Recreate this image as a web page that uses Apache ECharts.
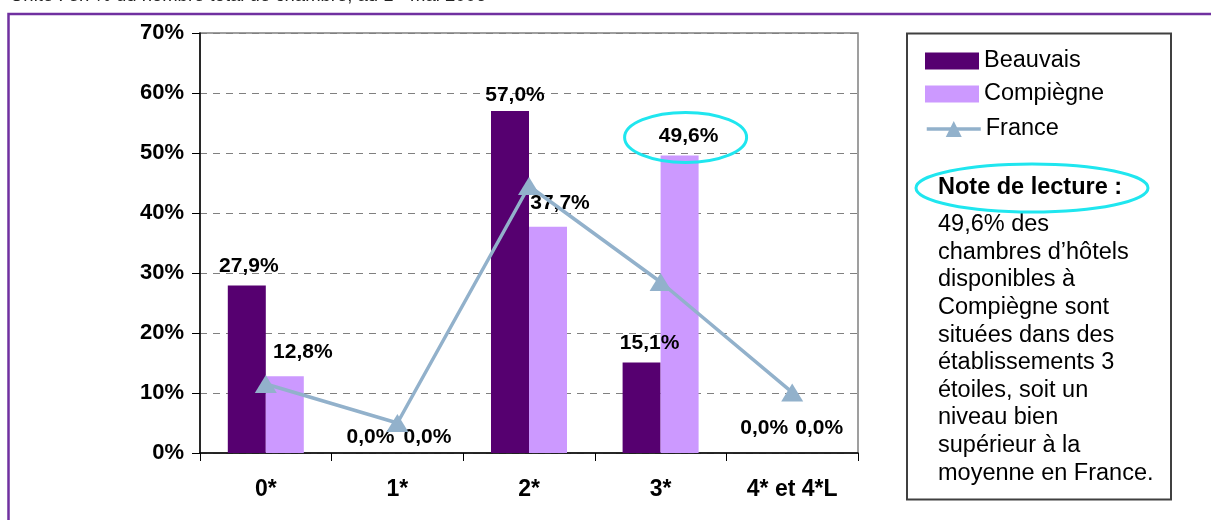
<!DOCTYPE html>
<html>
<head>
<meta charset="utf-8">
<script src="https://cdn.jsdelivr.net/npm/echarts@6/dist/echarts.min.js"></script>
<style>
  html, body { margin: 0; padding: 0; background: #ffffff; }
  #chart { width: 1211px; height: 520px; }
</style>
</head>
<body>
<div id="chart"></div>
<script>
// Hotel room share by star rating
const categories = ['0*', '1*', '2*', '3*', '4* et 4*L'];
const beauvais   = [27.9, 0.0, 57.0, 15.1, 0.0];
const compiegne  = [12.8, 0.0, 37.7, 49.6, 0.0];
const france     = [11.5, 5.0, 44.5, 28.5, 10.1];
const seriesNames = ['Beauvais', 'Compiègne', 'France'];

const unitLine = 'Unité : en % du nombre total de chambre, au 1ᵉʳ mai 2006';
const noteTitle = 'Note de lecture :';
const noteLines = [
  '49,6% des',
  'chambres d’hôtels',
  'disponibles à',
  'Compiègne sont',
  'situées dans des',
  'établissements 3',
  'étoiles, soit un',
  'niveau bien',
  'supérieur à la',
  'moyenne en France.'
];

// Hand placement of the value labels, [dx, dy] in pixels
const beauvaisNudge  = [[2, -4], [-8, 0], [5, 0], [8, -4], [-9, -9]];
const compiegneNudge = [[18, -8], [11, 0], [12, -8], [9, -4], [8, -9]];

const FONT = '"Liberation Sans", Arial, Helvetica, sans-serif';
const C_BEAUVAIS = '#560070';
const C_COMPIEGNE = '#CC99FF';
const C_FRANCE = '#92B1CB';
const C_CYAN = '#1FE6EF';
const C_FRAME = '#7030A0';

const fmtPct = v => v.toFixed(1).replace('.', ',') + '%';

function barData(values, nudges) {
  return values.map((v, i) => ({
    value: v,
    label: { offset: nudges[i] }
  }));
}

const valueLabel = {
  show: true,
  position: 'top',
  distance: 5,
  fontFamily: FONT,
  fontSize: 21,
  fontWeight: 'bold',
  color: '#000',
  formatter: p => fmtPct(p.value)
};

const legendText = { fontFamily: FONT, fontSize: 23.5, color: '#000' };

const chart = echarts.init(document.getElementById('chart'), null, { renderer: 'canvas' });

const option = {
  animation: false,
  backgroundColor: '#ffffff',
  textStyle: { fontFamily: FONT },
  grid: {
    left: 200, right: 353, top: 33, bottom: 67,
    show: true, borderColor: '#808080', borderWidth: 1.5, backgroundColor: 'transparent'
  },
  legend: [
    {
      orient: 'vertical',
      left: 925, top: 49, padding: 0,
      itemWidth: 54, itemHeight: 17, itemGap: 9,
      textStyle: legendText,
      data: [
        { name: seriesNames[0], icon: 'rect' },
        { name: seriesNames[1], icon: 'rect' }
      ]
    },
    {
      orient: 'vertical',
      left: 925, top: 117, padding: 0,
      itemWidth: 54, itemHeight: 20,
      textStyle: legendText,
      lineStyle: { width: 3.5 },
      data: [{ name: seriesNames[2] }]
    }
  ],
  xAxis: {
    type: 'category',
    data: categories,
    axisLine: { show: true, lineStyle: { color: '#000', width: 1.5 } },
    axisTick: { show: true, length: 8, lineStyle: { color: '#000', width: 1 } },
    axisLabel: { margin: 25, fontFamily: FONT, fontSize: 23, fontWeight: 'bold', color: '#000' },
    splitLine: { show: false }
  },
  yAxis: {
    type: 'value',
    min: 0, max: 70, interval: 10,
    axisLine: { show: true, lineStyle: { color: '#000', width: 1.5 } },
    axisTick: { show: true, length: 8, lineStyle: { color: '#000', width: 1 } },
    axisLabel: {
      margin: 16, fontFamily: FONT, fontSize: 22, fontWeight: 'bold', color: '#000',
      formatter: v => v + '%'
    },
    splitLine: { show: true, lineStyle: { color: '#808080', width: 1, type: [7, 6] } }
  },
  series: [
    {
      name: seriesNames[0], type: 'bar',
      data: barData(beauvais, beauvaisNudge),
      barWidth: 38, barGap: '0%',
      itemStyle: { color: C_BEAUVAIS },
      label: valueLabel
    },
    {
      name: seriesNames[1], type: 'bar',
      data: barData(compiegne, compiegneNudge),
      barWidth: 38,
      itemStyle: { color: C_COMPIEGNE },
      label: valueLabel
    },
    {
      name: seriesNames[2], type: 'line',
      data: france,
      z: 5,
      symbol: 'triangle', symbolSize: [22, 18],
      itemStyle: { color: C_FRANCE },
      lineStyle: { color: C_FRANCE, width: 3.5 }
    }
  ]
};

chart.setOption(option);

// Annotations: frame, unit line, reading-note box and highlight ellipses
const hl = chart.convertToPixel({ xAxisIndex: 0, yAxisIndex: 0 }, [3, compiegne[3]]);

chart.setOption({
  graphic: [
    {
      type: 'polyline', z: 20, silent: true,
      shape: { points: [[8.5, 530], [8.5, 14], [1220, 14]] },
      style: { stroke: C_FRAME, lineWidth: 2.5, fill: null }
    },
    {
      type: 'text', z: 20, silent: true,
      style: {
        x: 10, y: -4, text: unitLine,
        fontFamily: FONT, fontSize: 18.5, fill: '#222',
        verticalAlign: 'middle', align: 'left'
      }
    },
    {
      type: 'rect', z: -1, silent: true,
      shape: { x: 907, y: 33.5, width: 264, height: 466 },
      style: { fill: '#ffffff', stroke: '#404040', lineWidth: 2 }
    },
    {
      type: 'text', z: 20, silent: true,
      style: {
        x: 938, y: 188, text: noteTitle,
        fontFamily: FONT, fontSize: 23.5, fontWeight: 'bold', fill: '#000',
        verticalAlign: 'middle', align: 'left'
      }
    },
    {
      type: 'text', z: 20, silent: true,
      style: {
        x: 938, y: 211, text: noteLines.join('\n'),
        fontFamily: FONT, fontSize: 23.5, lineHeight: 27.6, fill: '#000',
        verticalAlign: 'top', align: 'left'
      }
    },
    {
      type: 'ellipse', z: 30, silent: true,
      shape: { cx: 1032, cy: 188, rx: 116, ry: 24 },
      style: { fill: null, stroke: C_CYAN, lineWidth: 3 }
    },
    {
      type: 'ellipse', z: 30, silent: true,
      shape: { cx: hl[0] + 25, cy: hl[1] - 18, rx: 61, ry: 25 },
      style: { fill: null, stroke: C_CYAN, lineWidth: 3 }
    }
  ]
});
</script>
</body>
</html>
